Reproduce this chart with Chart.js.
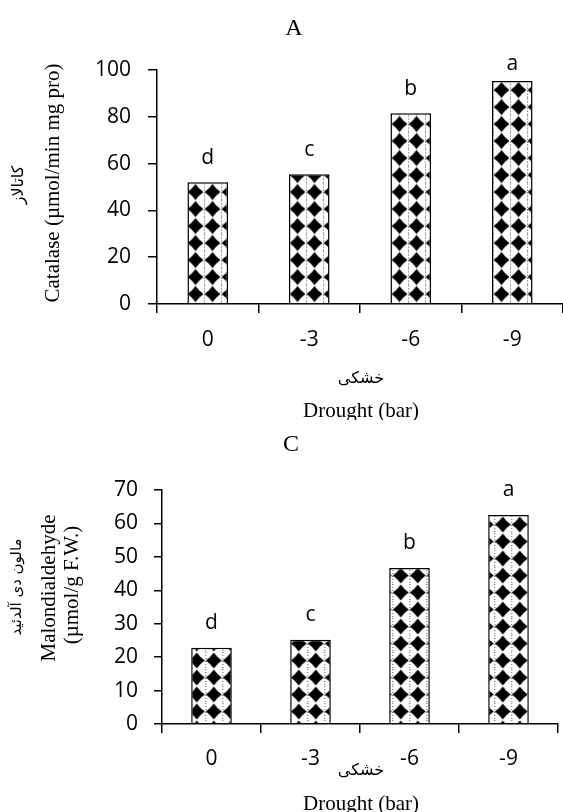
<!DOCTYPE html>
<html>
<head>
<meta charset="utf-8">
<script src="https://cdn.jsdelivr.net/npm/chart.js@4.4.1/dist/chart.umd.min.js"></script>
<style>
  html, body { margin: 0; padding: 0; background: #fff; }
  canvas { display: block; }
</style>
</head>
<body>
<canvas id="chartA" width="563" height="420"></canvas>
<canvas id="chartC" width="563" height="392"></canvas>
<script>
// data
const droughtLevels = ["0", "-3", "-6", "-9"];
const catalaseValues = [52, 55.4, 81.5, 95.3];
const catalaseLetters = ["d", "c", "b", "a"];
const catalaseTicks = [0, 20, 40, 60, 80, 100];
const mdaValues = [22.8, 25.2, 46.7, 62.5];
const mdaLetters = ["d", "c", "b", "a"];
const mdaTicks = [0, 10, 20, 30, 40, 50, 60, 70];

const tickFont = { family: "'Open Sans'", size: 21 };
const serif = "'Liberation Serif', 'Times New Roman', serif";

// excel-like diamond fill
function diamondPattern(ctx, ox, oy) {
  const s = 17, h = s / 2, r = 8, k = 0.7;
  const c = document.createElement("canvas");
  c.width = s; c.height = s;
  const g = c.getContext("2d");
  g.fillStyle = "#fff";
  g.fillRect(0, 0, s, s);
  // dotted link lines between diamonds
  g.fillStyle = "#555";
  for (let y = 0; y < s; y += 3) g.fillRect(0, y, 1, 1);
  g.fillStyle = "#000";
  g.beginPath();
  g.moveTo(h, h - r);
  g.quadraticCurveTo(h + r / 2 - k, h - r / 2 + k, h + r, h);
  g.quadraticCurveTo(h + r / 2 - k, h + r / 2 - k, h, h + r);
  g.quadraticCurveTo(h - r / 2 + k, h + r / 2 - k, h - r, h);
  g.quadraticCurveTo(h - r / 2 + k, h - r / 2 + k, h, h - r);
  g.fill();
  const p = ctx.createPattern(c, "repeat");
  p.setTransform(new DOMMatrix().translate(ox, oy));
  return p;
}

// texts + significance letters
function labelsPlugin(texts, letters, gap, topClamp) {
  return {
    id: "labels",
    afterDraw(chart) {
      const ctx = chart.ctx;
      ctx.save();
      ctx.fillStyle = "#000";
      texts.forEach(t => {
        ctx.save();
        ctx.font = t.font;
        ctx.translate(t.x, t.y);
        if (t.rotate) ctx.rotate(-Math.PI / 2);
        ctx.textAlign = "center";
        ctx.textBaseline = "middle";
        ctx.fillText(t.text, 0, 0);
        ctx.restore();
      });
      ctx.font = "21px 'Open Sans'";
      ctx.textAlign = "center";
      ctx.textBaseline = "alphabetic";
      chart.getDatasetMeta(0).data.forEach((bar, i) => {
        ctx.fillText(letters[i], bar.x, Math.max(bar.y - gap, topClamp));
      });
      ctx.restore();
    }
  };
}

function makeChart(id, values, ticks, cfg) {
  const canvas = document.getElementById(id);
  const ctx = canvas.getContext("2d");
  return new Chart(canvas, {
    type: "bar",
    data: {
      labels: droughtLevels,
      datasets: [{
        data: values,
        backgroundColor: diamondPattern(ctx, cfg.patX, cfg.patY),
        borderColor: "#000",
        borderWidth: 1.5,
        barPercentage: cfg.barPct,
        categoryPercentage: 1
      }]
    },
    options: {
      responsive: false,
      animation: false,
      events: [],
      layout: { padding: { top: 70, right: cfg.padRight, left: 0, bottom: 0 } },
      plugins: { legend: { display: false }, tooltip: { enabled: false } },
      scales: {
        x: {
          border: { color: "#000", width: 1.5 },
          grid: { drawOnChartArea: false, color: "#000", lineWidth: 1.5, tickLength: 9 },
          ticks: { color: "#000", font: tickFont, padding: cfg.xPad, maxRotation: 0 },
          afterFit: s => { s.height = cfg.xHeight; }
        },
        y: {
          min: 0,
          max: ticks[ticks.length - 1],
          border: { color: "#000", width: 1.5 },
          grid: { drawOnChartArea: false, color: "#000", lineWidth: 1.5, tickLength: cfg.yTick },
          ticks: { stepSize: ticks[1] - ticks[0], color: "#000", font: tickFont, padding: cfg.yPad },
          afterFit: s => { s.width = cfg.yWidth; }
        }
      }
    },
    plugins: [labelsPlugin(cfg.texts, cfg.letters, cfg.gap, cfg.topClamp)]
  });
}

makeChart("chartA", catalaseValues, catalaseTicks, {
  patX: 0, patY: 13.5, barPct: 0.4, padRight: 0,
  xPad: 14, xHeight: 116, yTick: 9, yPad: 17, yWidth: 157,
  letters: catalaseLetters, gap: 18, topClamp: 70,
  texts: [
    { text: "A", x: 294, y: 29, font: "24px " + serif },
    { text: "کاتالاز", x: 19, y: 185, rotate: true, font: "16px 'DejaVu Sans'" },
    { text: "Catalase (µmol/min mg pro)", x: 53, y: 183, rotate: true, font: "21px " + serif },
    { text: "خشکی", x: 361, y: 379, font: "16px 'DejaVu Sans'" },
    { text: "Drought (bar)", x: 361, y: 411, font: "21px " + serif }
  ]
});

makeChart("chartC", mdaValues, mdaTicks, {
  patX: 1.3, patY: 11, barPct: 0.41, padRight: 5,
  xPad: 13, xHeight: 88, yTick: 8, yPad: 16, yWidth: 162,
  letters: mdaLetters, gap: 19, topClamp: 0,
  texts: [
    { text: "C", x: 291, y: 25, font: "24px " + serif },
    { text: "مالون دی آلدئید", x: 17, y: 167, rotate: true, font: "15px 'DejaVu Sans'" },
    { text: "Malondialdehyde", x: 49, y: 168, rotate: true, font: "21px " + serif },
    { text: "(µmol/g F.W.)", x: 72, y: 165, rotate: true, font: "21px " + serif },
    { text: "خشکی", x: 361, y: 351, font: "16px 'DejaVu Sans'" },
    { text: "Drought (bar)", x: 361, y: 384, font: "21px " + serif }
  ]
});
</script>
</body>
</html>
